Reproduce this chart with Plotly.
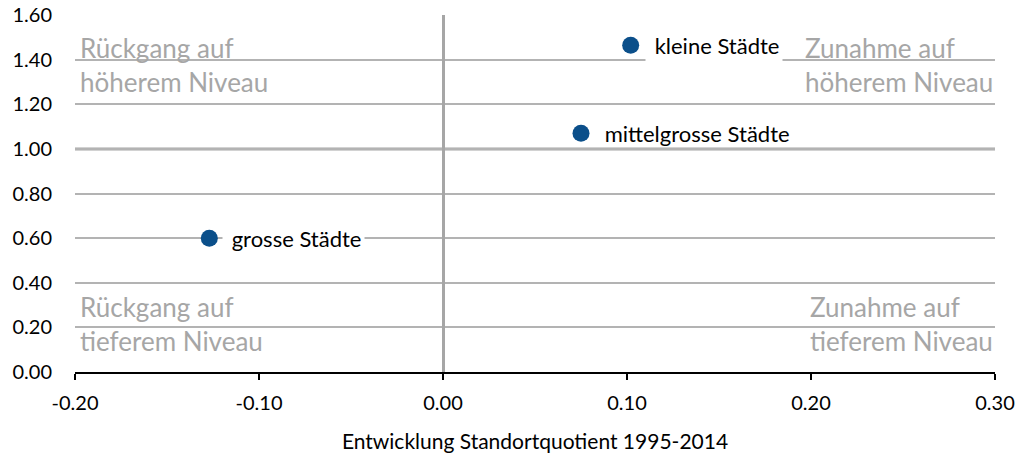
import plotly.graph_objects as go

# data
categories = ["grosse Städte", "mittelgrosse Städte", "kleine Städte"]
x_vals = [-0.127, 0.075, 0.102]
y_vals = [0.60, 1.07, 1.465]
x_ticks = [-0.2, -0.1, 0.0, 0.1, 0.2, 0.3]
x_tick_labels = ["-0.20", "-0.10", "0.00", "0.10", "0.20", "0.30"]
y_ticks = [0.0, 0.2, 0.4, 0.6, 0.8, 1.0, 1.2, 1.4, 1.6]
y_tick_labels = ["0.00", "0.20", "0.40", "0.60", "0.80", "1.00", "1.20", "1.40", "1.60"]
quadrant_texts = ["Rückgang auf<br>höherem Niveau", "Zunahme auf<br>höherem Niveau",
                  "Rückgang auf<br>tieferem Niveau", "Zunahme auf<br>tieferem Niveau"]
x_title = "Entwicklung Standortquotient 1995-2014"

FONT = "Lato, 'Open Sans', sans-serif"
GRID = "#b3b3b3"
DOT = "#0b4f8a"

fig = go.Figure()
fig.add_trace(go.Scatter(
    x=x_vals, y=y_vals, mode="markers",
    marker=dict(size=17, color=DOT),
    hoverinfo="skip", showlegend=False, cliponaxis=False,
))

# horizontal reference line at y = 1
fig.add_shape(type="line", xref="paper", x0=0, x1=1, yref="y", y0=1, y1=1,
              line=dict(color="#a6a6a6", width=3), layer="below")

# point labels
label_bg = ["white", "rgba(0,0,0,0)", "white"]
label_shift = [13, 14, 14]
for cx, cy, name, bg, sh in zip(x_vals, y_vals, categories, label_bg, label_shift):
    fig.add_annotation(x=cx, y=cy, text=" " + name, showarrow=False,
                       xanchor="left", yanchor="middle", xshift=sh,
                       bgcolor=bg, borderpad=3,
                       font=dict(family=FONT, size=22, color="black"))

# quadrant texts
qpos = [(0, 1.375, "left", 3), (1, 1.375, "right", 0),
        (0, 0.215, "left", 3), (1, 0.215, "right", 0)]
for (px, py, anc, sh), t in zip(qpos, quadrant_texts):
    fig.add_annotation(xref="paper", x=px, y=py, text=t, showarrow=False,
                       xanchor=anc, yanchor="middle", align="left", xshift=sh,
                       font=dict(family=FONT, size=26, color="#a6a6a6"))

fig.update_layout(
    width=1023, height=461,
    margin=dict(l=75, r=28, t=15, b=89),
    paper_bgcolor="white", plot_bgcolor="white",
    font=dict(family=FONT, size=20, color="black"),
    xaxis=dict(
        range=[-0.2, 0.3], tickvals=x_ticks, ticktext=x_tick_labels,
        showgrid=False, zeroline=True, zerolinecolor="#a6a6a6", zerolinewidth=3,
        showline=True, linecolor="black", linewidth=2,
        ticks="outside", ticklen=6, tickwidth=2, tickcolor="black",
        ticklabelstandoff=6, automargin=False, ticklabeloverflow="allow",
        title=dict(text=x_title, font=dict(family=FONT, size=21), standoff=21),
        fixedrange=True,
    ),
    yaxis=dict(
        range=[0, 1.6005], tickvals=y_ticks, ticktext=y_tick_labels,
        showgrid=True, gridcolor=GRID, gridwidth=2,
        zeroline=False, showline=False, ticks="", ticklabelstandoff=22,
        automargin=False, ticklabeloverflow="allow", fixedrange=True,
    ),
)

fig.write_html("out.html", config={"displayModeBar": False},
               post_script="document.body.style.margin='0px';")
